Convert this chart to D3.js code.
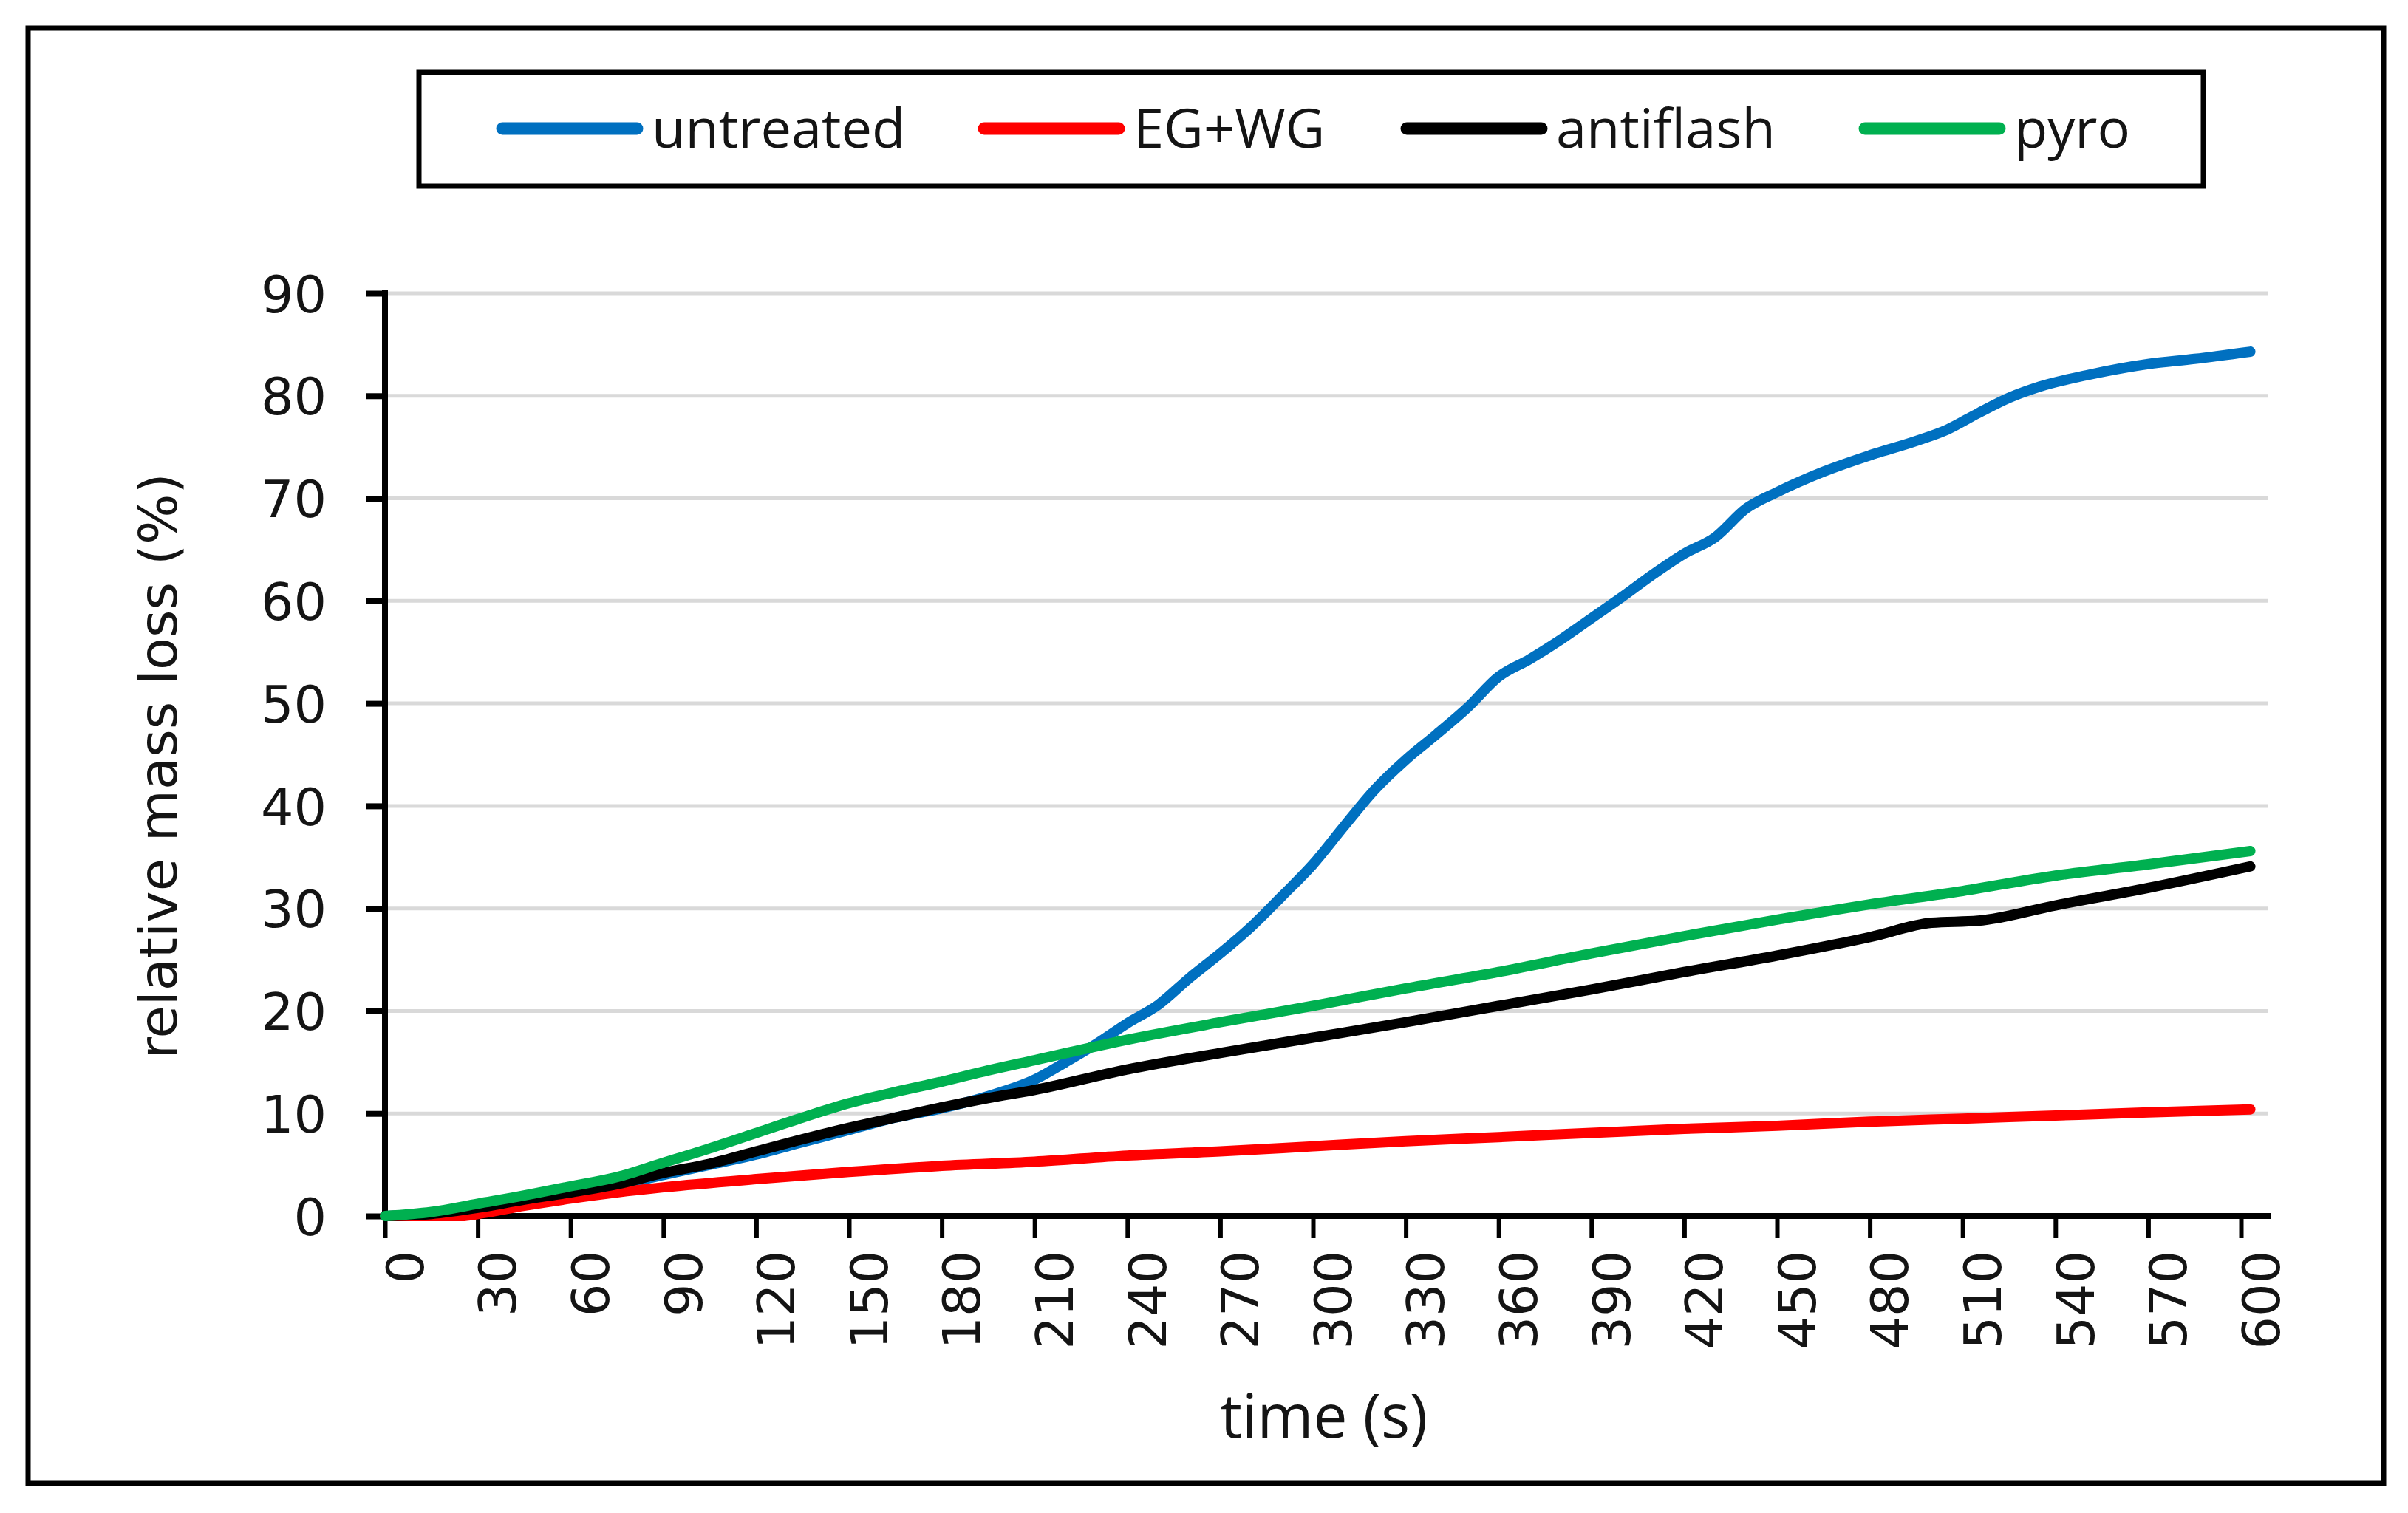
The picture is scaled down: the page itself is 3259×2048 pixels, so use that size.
<html>
	<script src='https://d3js.org/d3.v7.min.js'></script>
	<style>
		body {margin: 0; background: white;}
		.tick text {fill: #141414;}
	</style>
	<body onload='init()'>
		<svg width=3259 height=2048>
		</svg>
		<script>
// series data, [time (s), relative mass loss (%)]
var untreated = [[0,0],[15,0.2],[30,0.8],[45,1.5],[60,2.2],[75,3.0],[90,4.0],[105,5.0],[120,6.0],[135,7.2],[150,8.4],[165,9.6],[180,10.5],[195,11.7],[210,13.3],[220,15.0],[230,16.8],[240,18.8],[250,20.6],[260,23.2],[270,25.6],[280,28.2],[290,31.2],[300,34.3],[310,38.0],[320,41.6],[330,44.5],[340,47.0],[350,49.6],[360,52.6],[370,54.3],[380,56.2],[390,58.3],[400,60.4],[410,62.6],[420,64.6],[430,66.2],[440,69.0],[450,70.6],[465,72.6],[480,74.2],[495,75.6],[505,76.7],[515,78.3],[525,79.8],[535,80.9],[550,82.0],[570,83.1],[585,83.6],[603,84.3]];
var egwg = [[0,0],[25,0],[30,0.2],[45,1.0],[60,1.7],[75,2.3],[90,2.8],[120,3.6],[150,4.3],[180,4.9],[210,5.3],[240,5.9],[270,6.3],[300,6.8],[330,7.3],[360,7.7],[390,8.1],[420,8.5],[450,8.8],[480,9.2],[510,9.5],[540,9.8],[570,10.1],[603,10.4]];
var antiflash = [[0,0],[15,0.2],[30,0.8],[45,1.6],[60,2.3],[75,3.1],[90,4.2],[105,5.1],[120,6.3],[135,7.5],[150,8.6],[165,9.6],[180,10.6],[195,11.5],[210,12.3],[240,14.3],[270,15.9],[300,17.4],[330,18.9],[360,20.5],[390,22.1],[420,23.8],[450,25.4],[480,27.2],[500,28.6],[515,28.8],[540,30.3],[570,32.0],[603,34.1]];
var pyro = [[0,0],[15,0.4],[30,1.2],[45,2.0],[60,2.9],[75,3.8],[90,5.2],[105,6.6],[120,8.1],[135,9.6],[150,11.0],[165,12.1],[180,13.1],[195,14.2],[210,15.2],[240,17.2],[270,18.9],[300,20.5],[330,22.2],[360,23.8],[390,25.6],[420,27.3],[450,28.9],[480,30.4],[510,31.7],[540,33.2],[570,34.3],[603,35.6]];

var seriesNames = ['untreated', 'EG+WG', 'antiflash', 'pyro'];
var seriesColors = ['#0070C0', '#FF0000', '#000000', '#00B050'];
var xTicks = d3.range(0, 601, 30);
var yTicks = d3.range(0, 91, 10);

function init() {
svg = d3.select('svg');

// plot area
left = 521;
right = 3033;
top_ = 397;
bottom = 1646;

// outer frame
svg.append('rect')
	.attr('x', 38).attr('y', 38)
	.attr('width', 3188).attr('height', 1970)
	.attr('fill', 'none').attr('stroke', 'black').attr('stroke-width', 7);

var x = d3.scaleLinear().domain([0, 600]).range([left, right]);
var y = d3.scaleLinear().domain([0, 90]).range([bottom, top_]);

// gridlines
svg.append('g')
	.selectAll('line')
	.data(yTicks.slice(1))
	.enter()
	.append('line')
		.attr('x1', left).attr('x2', 3070)
		.attr('y1', function(d) {return y(d);})
		.attr('y2', function(d) {return y(d);})
		.attr('stroke', '#d9d9d9')
		.attr('stroke-width', 5);

// Y-axis
var yAxis = svg.append('g')
	.attr('transform', 'translate(' + left + ',0)')
	.call(d3.axisLeft(y).tickValues(yTicks).tickSize(26).tickPadding(53).tickSizeOuter(0));
yAxis.select('.domain').attr('stroke-width', 8).attr('d', 'M0,' + (top_ - 4) + 'V' + (bottom + 4));
yAxis.selectAll('.tick line').attr('stroke-width', 8);
yAxis.selectAll('.tick text')
	.style('font-family', 'DejaVu Sans')
	.style('font-size', '70px')
	.attr('dy', '0.36em');

// X-axis
var xAxis = svg.append('g')
	.attr('transform', 'translate(0,' + bottom + ')')
	.call(d3.axisBottom(x).tickValues(xTicks).tickSize(30).tickSizeOuter(0));
xAxis.select('.domain').attr('stroke-width', 8).attr('d', 'M' + (left - 4) + ',0H3073');
xAxis.selectAll('.tick line').attr('stroke-width', 6);
xAxis.selectAll('.tick text')
	.style('font-family', 'DejaVu Sans')
	.style('font-size', '70px')
	.style('text-anchor', 'end')
	.attr('x', 0).attr('y', 0)
	.attr('dy', '0.36em')
	.attr('transform', 'translate(26,47) rotate(-90)');

// axis titles
svg.append('text')
	.attr('transform', 'translate(214,1037) rotate(-90)')
	.attr('text-anchor', 'middle')
	.attr('dy', '0.35em')
	.style('font-family', 'DejaVu Sans')
	.style('font-size', '72px')
	.attr('fill', '#141414')
	.text('relative mass loss (%)');
svg.append('text')
	.attr('x', 1792).attr('y', 1946)
	.attr('text-anchor', 'middle')
	.style('font-family', 'Open Sans')
	.style('font-size', '82px')
	.attr('fill', '#141414')
	.text('time (s)');

// lines
var line = d3.line()
	.x(function(d) {return x(d[0]);})
	.y(function(d) {return y(d[1]);})
	.curve(d3.curveMonotoneX);
var allSeries = [untreated, egwg, antiflash, pyro];
svg.append('g')
	.selectAll('path')
	.data(allSeries)
	.enter()
	.append('path')
		.attr('d', line)
		.attr('fill', 'none')
		.attr('stroke', function(d, i) {return seriesColors[i];})
		.attr('stroke-width', 14)
		.attr('stroke-linecap', 'round')
		.attr('stroke-linejoin', 'round');

// legend
svg.append('rect')
	.attr('x', 567).attr('y', 98)
	.attr('width', 2415).attr('height', 154)
	.attr('fill', 'white').attr('stroke', 'black').attr('stroke-width', 7);
var legendX = [680, 1332, 1904, 2524];
var leg = svg.append('g')
	.selectAll('g')
	.data(seriesNames)
	.enter()
	.append('g')
		.attr('transform', function(d, i) {return 'translate(' + legendX[i] + ',174)';});
leg.append('line')
	.attr('x1', 0).attr('x2', 182)
	.attr('stroke', function(d, i) {return seriesColors[i];})
	.attr('stroke-width', 17)
	.attr('stroke-linecap', 'round');
leg.append('text')
	.attr('x', 202)
	.attr('dy', '0.35em')
	.style('font-family', 'Open Sans')
	.style('font-size', '74px')
	.attr('fill', '#141414')
	.text(function(d) {return d;});
}
		</script>
	</body>
</html>
